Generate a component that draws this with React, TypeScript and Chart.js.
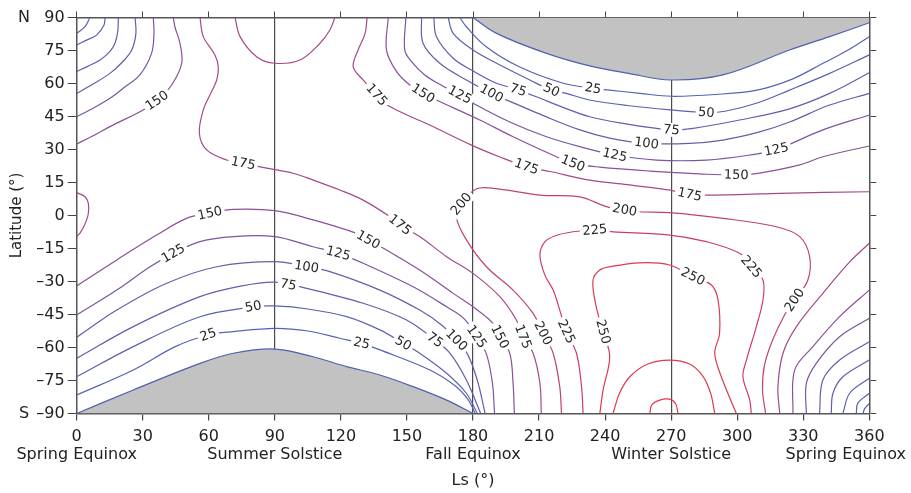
import React, { useEffect, useRef } from 'react';
import { Chart, registerables } from 'chart.js';

Chart.register(...registerables);

type Pt = [number, number];

// ---- axis data ----
const lsMin = 0;
const lsMax = 360;
const lsStep = 30;
const latMin = -90;
const latMax = 90;
const latStep = 15;
const dividerLs = [90, 180, 270];
const seasonLs = [0, 90, 180, 270, 360];
const seasonNames = ['Spring Equinox', 'Summer Solstice', 'Fall Equinox', 'Winter Solstice', 'Spring Equinox'];

// ---- polar-night (gray) boundaries ----
const grayNorth: Pt[] = [[180, 90], [190.7, 82.8], [213.4, 73.7], [233, 68], [251.2, 64.5], [269.7, 61.6], [293.5, 63.9], [323.8, 75.2], [342, 81.3], [360, 87.6]];
const graySouth: Pt[] = [[0, -90], [25.7, -79.3], [56, -67.2], [71.1, -62.6], [90, -60.7], [107.4, -64.2], [122.6, -68.7], [137.7, -72.5], [152.8, -77.8], [168, -83.9], [180, -90]];

// ---- contour lines: [Ls, latitude] ----
const c25NEast: Pt[] = [[174, 90], [177, 85.8], [186, 76.7], [201, 67.6], [221, 60.1], [234.5, 57.8], [242, 57], [256, 55.5], [270, 54.2], [290, 55], [309, 57], [325, 62], [339, 69.2], [350, 75], [360, 81.3]];
const c25NWest: Pt[] = [[0, 82.8], [3.8, 85.8], [6, 90]];
const c50NEast: Pt[] = [[168.7, 90], [171, 82.8], [180, 75.2], [190.7, 69.2], [205.8, 61.6], [215.6, 57], [222.4, 55.5], [233, 52.5], [250, 50], [269.7, 48], [286, 46.8], [295, 47.5], [308.7, 51], [323.8, 57], [342, 64.6], [360, 73]];
const c50NWest: Pt[] = [[0, 77.5], [4, 79.5], [9, 82], [12.4, 86.6], [12.9, 90]];
const c75NEast: Pt[] = [[162.2, 90], [163.4, 81.3], [171, 71.5], [179.3, 66.1], [189.1, 60.8], [200.5, 57], [210, 53.5], [220, 49.5], [233, 44.9], [250, 41.5], [263.3, 39.6], [270.1, 38.9], [280, 39.6], [301.1, 43.4], [323.8, 48.5], [342, 55.5], [360, 64.9]];
const c75NWest: Pt[] = [[0, 65.4], [5, 67.8], [10.6, 70.7], [15, 74.5], [17.4, 78.3], [18.7, 84], [18.9, 90]];
const c100NEast: Pt[] = [[156.6, 90], [157.3, 78.3], [164.9, 69.2], [177, 61.6], [188.4, 55.5], [200, 50.5], [211.7, 45.5], [228.5, 38.9], [242.1, 35.2], [258.8, 32.8], [278.4, 32.8], [293.5, 34.3], [310.2, 38], [323.8, 42.5], [342, 50.2], [360, 55.5]];
const c100NWest: Pt[] = [[0, 55.5], [7, 59.5], [15.1, 64.6], [21, 70], [25, 75.2], [26.9, 82.8], [26.5, 90]];
const c125NEast: Pt[] = [[149.5, 90], [149, 75.2], [152.2, 69.8], [158.1, 63.9], [166, 59], [174, 54.8], [180, 51], [196.7, 42.5], [213.4, 35.8], [228.5, 31.3], [244.4, 27.5], [263.3, 25.2], [286, 25.2], [305.7, 27.5], [317.8, 30], [338.9, 38.9], [360, 45.7]];
const c125NWest: Pt[] = [[0, 44.9], [7, 48.5], [15.1, 53.3], [22, 58.5], [28.7, 63.9], [34, 73.7], [35.1, 82.8], [34.8, 90]];
const c150NEast: Pt[] = [[141.5, 90], [140.7, 75.2], [145.3, 65.4], [151.3, 59.3], [157.3, 55.5], [163.4, 52.5], [183.1, 43.4], [198.2, 35.8], [217.9, 26.7], [225.4, 23.7], [237.6, 22], [260.3, 20.2], [283, 18.9], [299.6, 18.4], [310.2, 19.3], [328.4, 23], [338.9, 26.7], [360, 31.6]];
const c150NWest: Pt[] = [[0, 32.5], [7, 36], [15.1, 40.4], [30.2, 48], [36.9, 52.5], [43.1, 59.3], [47.7, 69.2], [46.9, 78.3], [44.6, 85.8], [43.9, 90]];
const c175NEast: Pt[] = [[131.9, 90], [131, 82.8], [127.8, 75.2], [125.6, 67.6], [130.1, 61.6], [136.2, 54.8], [142.2, 49.5], [160.4, 41.1], [179.3, 32], [192.2, 26.6], [204.3, 22.2], [215, 20], [233, 16.1], [250, 14], [269.5, 11.5], [278.4, 9.5], [300, 9.5], [319.3, 10.1], [360, 10.8]];
const c175Bump: Pt[] = [[0, 10.4], [3.8, 8.5], [5.3, 5.5], [5.3, 1], [4.5, -2], [3, -5.5], [1.5, -8], [0, -9.6]];
const c175Pole: Pt[] = [[71.9, 90], [74.2, 81.3], [81.7, 72.2], [90, 69.2], [101.4, 70.7], [110.5, 78.3], [115, 84.3], [117.3, 90]];
const c175West: Pt[] = [[56, 90], [57.5, 81.3], [62.8, 73], [64.3, 67.6], [63.6, 61.6], [60.5, 54.8], [57.5, 48], [55.7, 37.4], [59, 29.8], [68.1, 25.2], [75.6, 23.7], [86.3, 21.5], [98.3, 19.2], [107.4, 16.1], [119.5, 11.6], [130.1, 7], [142.2, -0.5], [146.8, -4.3], [155.8, -9.6], [168, -18.7], [180, -26.3], [192.2, -36.9], [199.7, -47.5], [202.7, -55.1], [207.3, -62.6], [210.4, -76.3], [211, -90]];
const c175East: Pt[] = [[360, -12.6], [351.1, -21.1], [338.9, -35.4], [326.9, -50.5], [320.8, -62.6], [318.5, -77.8], [319.3, -90]];
const c150South: Pt[] = [[0, -32], [18.2, -20.2], [36.3, -8.9], [49.9, -1.3], [60.5, 1], [71.1, 2.8], [90, 2.2], [107.4, -2], [127.1, -8.1], [132.4, -11.1], [140.7, -15.7], [155.8, -24.8], [171, -35.4], [180, -41.5], [189.1, -49], [192.2, -55.1], [196.7, -62.6], [198.2, -76.3], [198.8, -90]];
const c150East: Pt[] = [[360, -33.9], [346.5, -46], [334.4, -59.6], [326.1, -70.2], [325.3, -90]];
const c125South: Pt[] = [[0, -45.2], [18.2, -33.9], [33.3, -23.3], [43.9, -17.2], [56, -11.9], [71.1, -9.6], [90, -9.6], [107.4, -14.2], [118.8, -17.2], [130.1, -21.7], [152.8, -32.4], [168, -41.5], [176, -47], [181.6, -55.1], [186.1, -63], [188.8, -76], [189.8, -90]];
const c125East: Pt[] = [[360, -46.7], [346.5, -55.1], [335.9, -67.2], [331.4, -76.3], [331.4, -90]];
const c100South: Pt[] = [[0, -55.4], [18.2, -43], [40.9, -30.8], [63.6, -23.3], [90, -21], [104.4, -23.3], [115, -25.5], [137.7, -33.9], [155.8, -43], [166, -50], [172.5, -56.6], [177.5, -63], [182, -75], [185.5, -90]];
const c100East: Pt[] = [[360, -57.4], [346.5, -65.7], [338.9, -74.8], [337.4, -90]];
const c75South: Pt[] = [[0, -64.9], [25.7, -50.5], [56, -36.9], [75, -32], [90, -30.3], [104.4, -33.1], [130.1, -39.9], [149.8, -47.5], [162.7, -56.6], [169.5, -62.6], [177, -74.8], [183.5, -90]];
const c75East: Pt[] = [[360, -65.7], [348, -73.3], [343.5, -80.8], [342.7, -90]];
const c50South: Pt[] = [[0, -73.3], [25.7, -59.6], [56, -46], [80.2, -41.5], [90, -41.1], [105, -42.5], [122.6, -46], [137.7, -52], [148.3, -58.1], [155.8, -62.6], [168, -71.7], [177, -80.8], [182, -90]];
const c50East: Pt[] = [[360, -74], [351.1, -80.8], [348, -90]];
const c25South: Pt[] = [[0, -81.6], [25.7, -70.2], [45, -59.5], [59.7, -54.3], [71.1, -52.8], [90, -51.3], [105, -52.5], [119.5, -55.8], [129.4, -58.1], [137.7, -61.1], [160.4, -70.2], [172, -77.5], [178, -84], [181, -90]];
const c25East: Pt[] = [[360, -80.8], [354.8, -85.3], [354.1, -90]];
const c0East: Pt[] = [[360, -85.5], [357.9, -87.8], [357.1, -90]];
const c200: Pt[] = [[220.2, -90], [219.4, -77.8], [216.4, -62.6], [211.8, -53.5], [207.3, -44.5], [198.2, -33.9], [186.1, -23.3], [177, -11.1], [172.5, -1], [174.5, 5], [178.5, 10], [183, 12.5], [192, 12], [210.3, 9.3], [228.5, 8.5], [240.6, 4], [248.9, 2.5], [255.7, 1.7], [269.3, 1.3], [293.5, -1.3], [317.8, -5.1], [328.4, -9.6], [332.9, -18.7], [332.1, -29.3], [326.1, -38.4], [321.5, -45.2], [316.1, -56.6], [312.4, -68], [311.5, -79.3], [312.9, -90]];
const c225: Pt[] = [[230, -90], [229.3, -77.8], [227, -62.6], [222.4, -52.8], [219.4, -43], [216.4, -33.9], [212.6, -27], [210.4, -18], [212.6, -12], [217.1, -9.3], [225.4, -7.4], [235.3, -6.6], [243.6, -7.4], [269.3, -8.9], [286, -11.9], [301.1, -17.2], [306.4, -23.3], [311.7, -29.3], [311.7, -38.4], [308.7, -50.5], [304.2, -65.7], [302.6, -73.3], [305.7, -83.9], [306.4, -90]];
const c250: Pt[] = [[237.6, -90], [239.1, -79.3], [242.1, -64.2], [239.1, -52.8], [235.8, -40.7], [234.5, -29.3], [237.6, -24.8], [242.1, -23.3], [255.7, -21.5], [269.3, -22.5], [279.9, -27.8], [288.3, -31.6], [291.3, -38.4], [292, -53.5], [289.8, -62.6], [292.8, -73.3], [299.6, -90]];
const c275: Pt[] = [[243.6, -90], [246.6, -80.7], [251.2, -73.3], [259.4, -67.5], [269.3, -65.7], [278.4, -67.5], [284.3, -72.9], [287.9, -80.7], [289.8, -90]];
const c300: Pt[] = [[260.3, -90], [261.2, -86.1], [264.8, -83.9], [269.3, -83.5], [272.1, -85.7], [273.1, -90]];

const contourLines: [number, Pt[]][] = [
  [0, c0East],
  [25, c25NEast], [25, c25NWest], [25, c25South], [25, c25East],
  [50, c50NEast], [50, c50NWest], [50, c50South], [50, c50East],
  [75, c75NEast], [75, c75NWest], [75, c75South], [75, c75East],
  [100, c100NEast], [100, c100NWest], [100, c100South], [100, c100East],
  [125, c125NEast], [125, c125NWest], [125, c125South], [125, c125East],
  [150, c150NEast], [150, c150NWest], [150, c150South], [150, c150East],
  [175, c175NEast], [175, c175Bump], [175, c175Pole], [175, c175West], [175, c175East],
  [200, c200], [225, c225], [250, c250], [275, c275], [300, c300],
];

// ---- contour labels: position (Ls, lat) and level ----
const labelLs = [36.3, 75.6, 136.2, 157.3, 174, 188.4, 200.5, 215.6, 234.5, 286, 270.1, 258.8, 244.4, 317.8, 225.4, 299.6, 204.3, 278.4, 175, 248.9, 235.3, 306.4, 279.9, 239.1, 326.1, 60.5, 43.9, 104.4, 96.1, 80.2, 59.7, 146.8, 132.4, 118.8, 129.4, 148.3, 162.7, 172.5, 181.6, 192.2, 202.7, 211.8, 222.4];
const labelLat = [52.5, 23.7, 54.8, 55.5, 54.8, 55.5, 57, 57, 57.8, 46.8, 38.9, 32.8, 27.5, 30, 23.7, 18.4, 22.2, 9.5, 5, 2.5, -6.6, -23.3, -27.8, -52.8, -38.4, 1, -17.2, -23.3, -31.6, -41.5, -54.3, -4.3, -11.1, -17.2, -58.1, -58.1, -56.6, -56.6, -55.1, -55.1, -55.1, -53.5, -52.8];
const labelLevel = [150, 175, 175, 150, 125, 100, 75, 50, 25, 50, 75, 100, 125, 125, 150, 150, 175, 175, 200, 200, 225, 225, 250, 250, 200, 150, 125, 100, 75, 50, 25, 175, 150, 125, 25, 50, 75, 100, 125, 150, 175, 200, 225];

const levelColors: Record<number, string> = {
  0: '#5060b2', 25: '#5563b3', 50: '#5b61b0', 75: '#625ead', 100: '#6b5aa8', 125: '#7a55a2',
  150: '#8c4f99', 175: '#a4498a', 200: '#bc4376', 225: '#cf3d62', 250: '#d93a56', 275: '#df3a50', 300: '#e33a4c',
};

const FONT = 'DejaVu Sans';

const overlayPlugin = {
  id: 'overlay',
  afterDraw(chart: any) {
    const { ctx, scales } = chart;
    const xs = scales.x;
    const ys = scales.y;
    ctx.save();
    // contour labels
    ctx.font = `13px "${FONT}"`;
    ctx.textAlign = 'center';
    ctx.textBaseline = 'middle';
    for (let i = 0; i < labelLs.length; i++) {
      const px = xs.getPixelForValue(labelLs[i]);
      const py = ys.getPixelForValue(labelLat[i]);
      let best = Infinity;
      let bx = px;
      let by = py;
      let ang = 0;
      for (const [level, pts] of contourLines) {
        if (level !== labelLevel[i]) continue;
        for (let k = 0; k < pts.length - 1; k++) {
          const ax = xs.getPixelForValue(pts[k][0]);
          const ay = ys.getPixelForValue(pts[k][1]);
          const cx = xs.getPixelForValue(pts[k + 1][0]);
          const cy = ys.getPixelForValue(pts[k + 1][1]);
          const dx = cx - ax;
          const dy = cy - ay;
          const l2 = dx * dx + dy * dy || 1;
          let t = ((px - ax) * dx + (py - ay) * dy) / l2;
          t = Math.max(0, Math.min(1, t));
          const qx = ax + t * dx;
          const qy = ay + t * dy;
          const d = (qx - px) ** 2 + (qy - py) ** 2;
          if (d < best) {
            best = d;
            bx = qx;
            by = qy;
            ang = Math.atan2(dy, dx);
          }
        }
      }
      if (ang > Math.PI / 2) ang -= Math.PI;
      if (ang < -Math.PI / 2) ang += Math.PI;
      const text = String(labelLevel[i]);
      const w = ctx.measureText(text).width + 5;
      ctx.save();
      ctx.translate(bx, by);
      ctx.rotate(ang);
      ctx.fillStyle = '#ffffff';
      ctx.fillRect(-w / 2, -7, w, 14);
      ctx.fillStyle = '#262626';
      ctx.fillText(text, 0, 0.5);
      ctx.restore();
    }
    // N / S markers
    ctx.font = `16px "${FONT}"`;
    ctx.fillStyle = '#222';
    ctx.textAlign = 'center';
    ctx.fillText('N', 24, ys.getPixelForValue(latMax));
    ctx.fillText('S', 24, ys.getPixelForValue(latMin));
    // season names under ticks
    const W = chart.width;
    for (let i = 0; i < seasonLs.length; i++) {
      const t = seasonNames[i];
      const w = ctx.measureText(t).width;
      let cx = xs.getPixelForValue(seasonLs[i]);
      cx = Math.max(w / 2 + 2, Math.min(W - w / 2 - 5, cx));
      ctx.fillText(t, cx, xs.bottom - 38);
    }
    ctx.restore();
  },
};

export default function App() {
  const ref = useRef<HTMLCanvasElement>(null);
  useEffect(() => {
    const canvas = ref.current!;
    const datasets: any[] = contourLines.map(([level, pts]) => ({
      data: pts.map(([x, y]) => ({ x, y })),
      borderColor: levelColors[level],
      borderWidth: 1.2,
      pointRadius: 0,
      tension: 0.35,
      fill: false,
      order: 1,
    }));
    datasets.push({
      data: grayNorth.map(([x, y]) => ({ x, y })),
      borderColor: levelColors[0],
      backgroundColor: '#c2c2c2',
      borderWidth: 1.2,
      pointRadius: 0,
      tension: 0.35,
      fill: 'end',
      order: 5,
    });
    datasets.push({
      data: graySouth.map(([x, y]) => ({ x, y })),
      borderColor: levelColors[0],
      backgroundColor: '#c2c2c2',
      borderWidth: 1.2,
      pointRadius: 0,
      tension: 0.35,
      fill: 'start',
      order: 5,
    });

    const tickFont = { family: FONT, size: 16 };
    const chart = new Chart(canvas, {
      type: 'line',
      data: { datasets },
      options: {
        animation: false,
        responsive: false,
        devicePixelRatio: 1,
        events: [],
        layout: { padding: { left: 0, top: 17.5, right: 41.7, bottom: 0 } },
        plugins: { legend: { display: false }, tooltip: { enabled: false } },
        scales: {
          x: {
            type: 'linear',
            position: 'bottom',
            min: lsMin,
            max: lsMax,
            z: 1,
            ticks: { stepSize: lsStep, autoSkip: false, maxRotation: 0, padding: 7, color: '#222', font: tickFont, callback: (v: any) => String(v) },
            grid: {
              drawOnChartArea: true,
              tickLength: 7,
              lineWidth: 1.2,
              tickColor: '#444',
              color: (c: any) => (c.tick && dividerLs.includes(c.tick.value) ? '#4a4a4a' : 'rgba(0,0,0,0)'),
            },
            border: { display: true, color: '#555', width: 1.5 },
            title: { display: true, text: 'Ls (°)', color: '#222', font: { family: FONT, size: 16 }, padding: { top: 0, bottom: 2.4 } },
            afterFit: (s: any) => { s.height = 79.5; },
          },
          x2: {
            type: 'linear',
            position: 'top',
            min: lsMin,
            max: lsMax,
            ticks: { stepSize: lsStep, display: false },
            grid: { drawOnChartArea: false, tickLength: 6, tickColor: '#444' },
            border: { display: true, color: '#555', width: 1.5 },
            afterFit: (s: any) => { s.height = 0; },
          },
          y: {
            type: 'linear',
            position: 'left',
            min: latMin,
            max: latMax,
            ticks: {
              stepSize: latStep, autoSkip: false, padding: 3, color: '#222', font: tickFont,
              callback: (v: any) => (v < 0 ? '\u2013' + Math.abs(v) : String(v)),
            },
            grid: { drawOnChartArea: false, tickLength: 9, tickColor: '#444' },
            border: { display: true, color: '#555', width: 1.5 },
            title: { display: true, text: 'Latitude (°)', color: '#222', font: { family: FONT, size: 15 }, padding: { top: 8, bottom: 0 } },
            afterFit: (s: any) => { s.width = 76.7; },
          },
          y2: {
            type: 'linear',
            position: 'right',
            min: latMin,
            max: latMax,
            ticks: { stepSize: latStep, display: false },
            grid: { drawOnChartArea: false, tickLength: 7, tickColor: '#444' },
            border: { display: true, color: '#555', width: 1.5 },
            afterFit: (s: any) => { s.width = 0; },
          },
        },
      } as any,
      plugins: [overlayPlugin],
    });
    return () => chart.destroy();
  }, []);

  return (
    <div style={{ position: 'absolute', left: 0, top: 0, width: 911, height: 493, background: '#fff' }}>
      <canvas ref={ref} width={911} height={493} style={{ display: 'block' }} />
    </div>
  );
}
